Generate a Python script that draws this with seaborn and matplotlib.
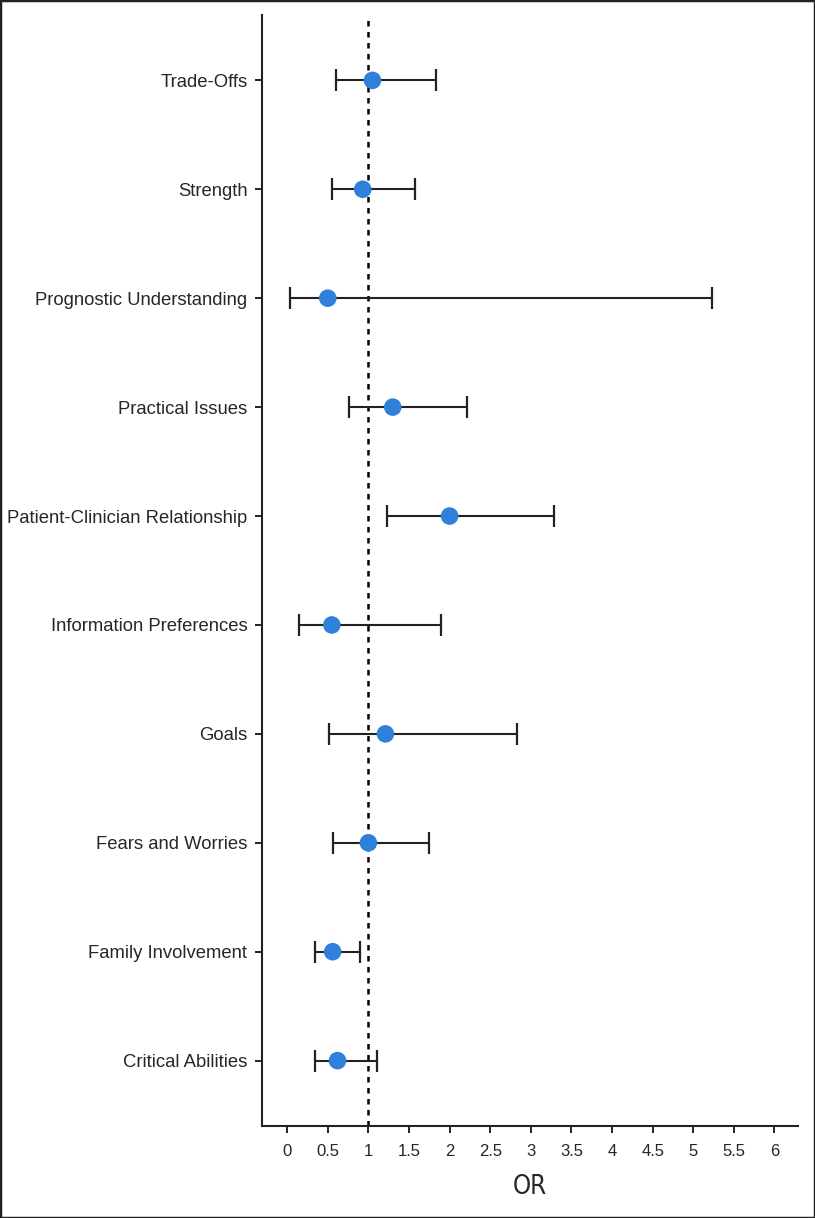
import matplotlib
matplotlib.use("Agg")
import matplotlib.pyplot as plt
from matplotlib import font_manager
from matplotlib.font_manager import FontProperties
from matplotlib.patches import Rectangle
import seaborn as sns
import pandas as pd

categories = ["Trade-Offs", "Strength", "Prognostic Understanding", "Practical Issues",
              "Patient-Clinician Relationship", "Information Preferences", "Goals",
              "Fears and Worries", "Family Involvement", "Critical Abilities"]
odds_ratio = [1.05, 0.93, 0.50, 1.30, 2.00, 0.55, 1.21, 1.00, 0.56, 0.62]
ci_low = [0.60, 0.55, 0.03, 0.76, 1.23, 0.14, 0.52, 0.57, 0.345, 0.34]
ci_high = [1.83, 1.57, 5.23, 2.22, 3.28, 1.90, 2.83, 1.75, 0.895, 1.10]
x_ticks = [0, 0.5, 1, 1.5, 2, 2.5, 3, 3.5, 4, 4.5, 5, 5.5, 6]
x_tick_labels = ["0", "0.5", "1", "1.5", "2", "2.5", "3", "3.5", "4", "4.5", "5", "5.5", "6"]

df = pd.DataFrame({"cat": categories, "or": odds_ratio, "lo": ci_low, "hi": ci_high})

sns.set_theme(style="ticks")
plt.rcParams["font.family"] = ["Liberation Sans", "DejaVu Sans"]

# find a condensed / narrow sans face for the axis title, if one is installed
narrow_fp = None
cands = []
for f in font_manager.fontManager.ttflist:
    fn = f.fname.lower()
    if f.weight not in (400, "normal", "regular") or f.style != "normal":
        continue
    if ("narrow" in fn or "condensed" in fn or str(f.stretch) in ("condensed", "semi-condensed", "extra-condensed")) \
            and "serif" not in fn and "mono" not in fn and "bold" not in fn and "oblique" not in fn and "italic" not in fn:
        cands.append(f.fname)
pref = ["liberationsansnarrow-regular", "dejavusanscondensed.", "condensed", "narrow"]
for p in pref:
    hit = [c for c in cands if p in c.lower()]
    if hit:
        narrow_fp = FontProperties(fname=hit[0], size=18.5)
        break
if narrow_fp is None:
    narrow_fp = FontProperties(family="Liberation Sans", size=17)

fig = plt.figure(figsize=(8.15, 12.18), dpi=100)
ax = fig.add_axes([262 / 815, (1218 - 1126) / 1218, (798 - 262) / 815, (1126 - 15) / 1218])

ax.axvline(1, color="black", linestyle=(0, (2.2, 2.2)), linewidth=1.8, zorder=1)

ax.errorbar(df["or"], df["cat"],
            xerr=[df["or"] - df["lo"], df["hi"] - df["or"]],
            fmt="none", ecolor="#222222", elinewidth=1.5, capsize=8, capthick=1.6, zorder=2)

sns.scatterplot(data=df, x="or", y="cat", ax=ax, color="#2F80DA", s=160,
                edgecolor="none", zorder=3, legend=False)

ax.set_xlim(-0.31, 6.29)
ax.set_ylim(9.6, -0.6)
ax.set_xticks(x_ticks)
ax.set_xticklabels(x_tick_labels, fontsize=12)
ax.tick_params(axis="y", labelsize=13.3, length=5, width=1.4, pad=5.5, color="#222222")
ax.tick_params(axis="x", length=5, width=1.4, pad=8, color="#222222")
ax.set_ylabel("")
ax.set_xlabel("OR", fontproperties=narrow_fp, labelpad=11)

for side in ["top", "right"]:
    ax.spines[side].set_visible(False)
for side in ["left", "bottom"]:
    ax.spines[side].set_linewidth(1.5)
    ax.spines[side].set_color("#222222")

fig.patches.append(Rectangle((0, 0), 1, 1, transform=fig.transFigure, fill=False,
                             edgecolor="#222222", linewidth=2.5))

fig.savefig("out.png", dpi=100)
